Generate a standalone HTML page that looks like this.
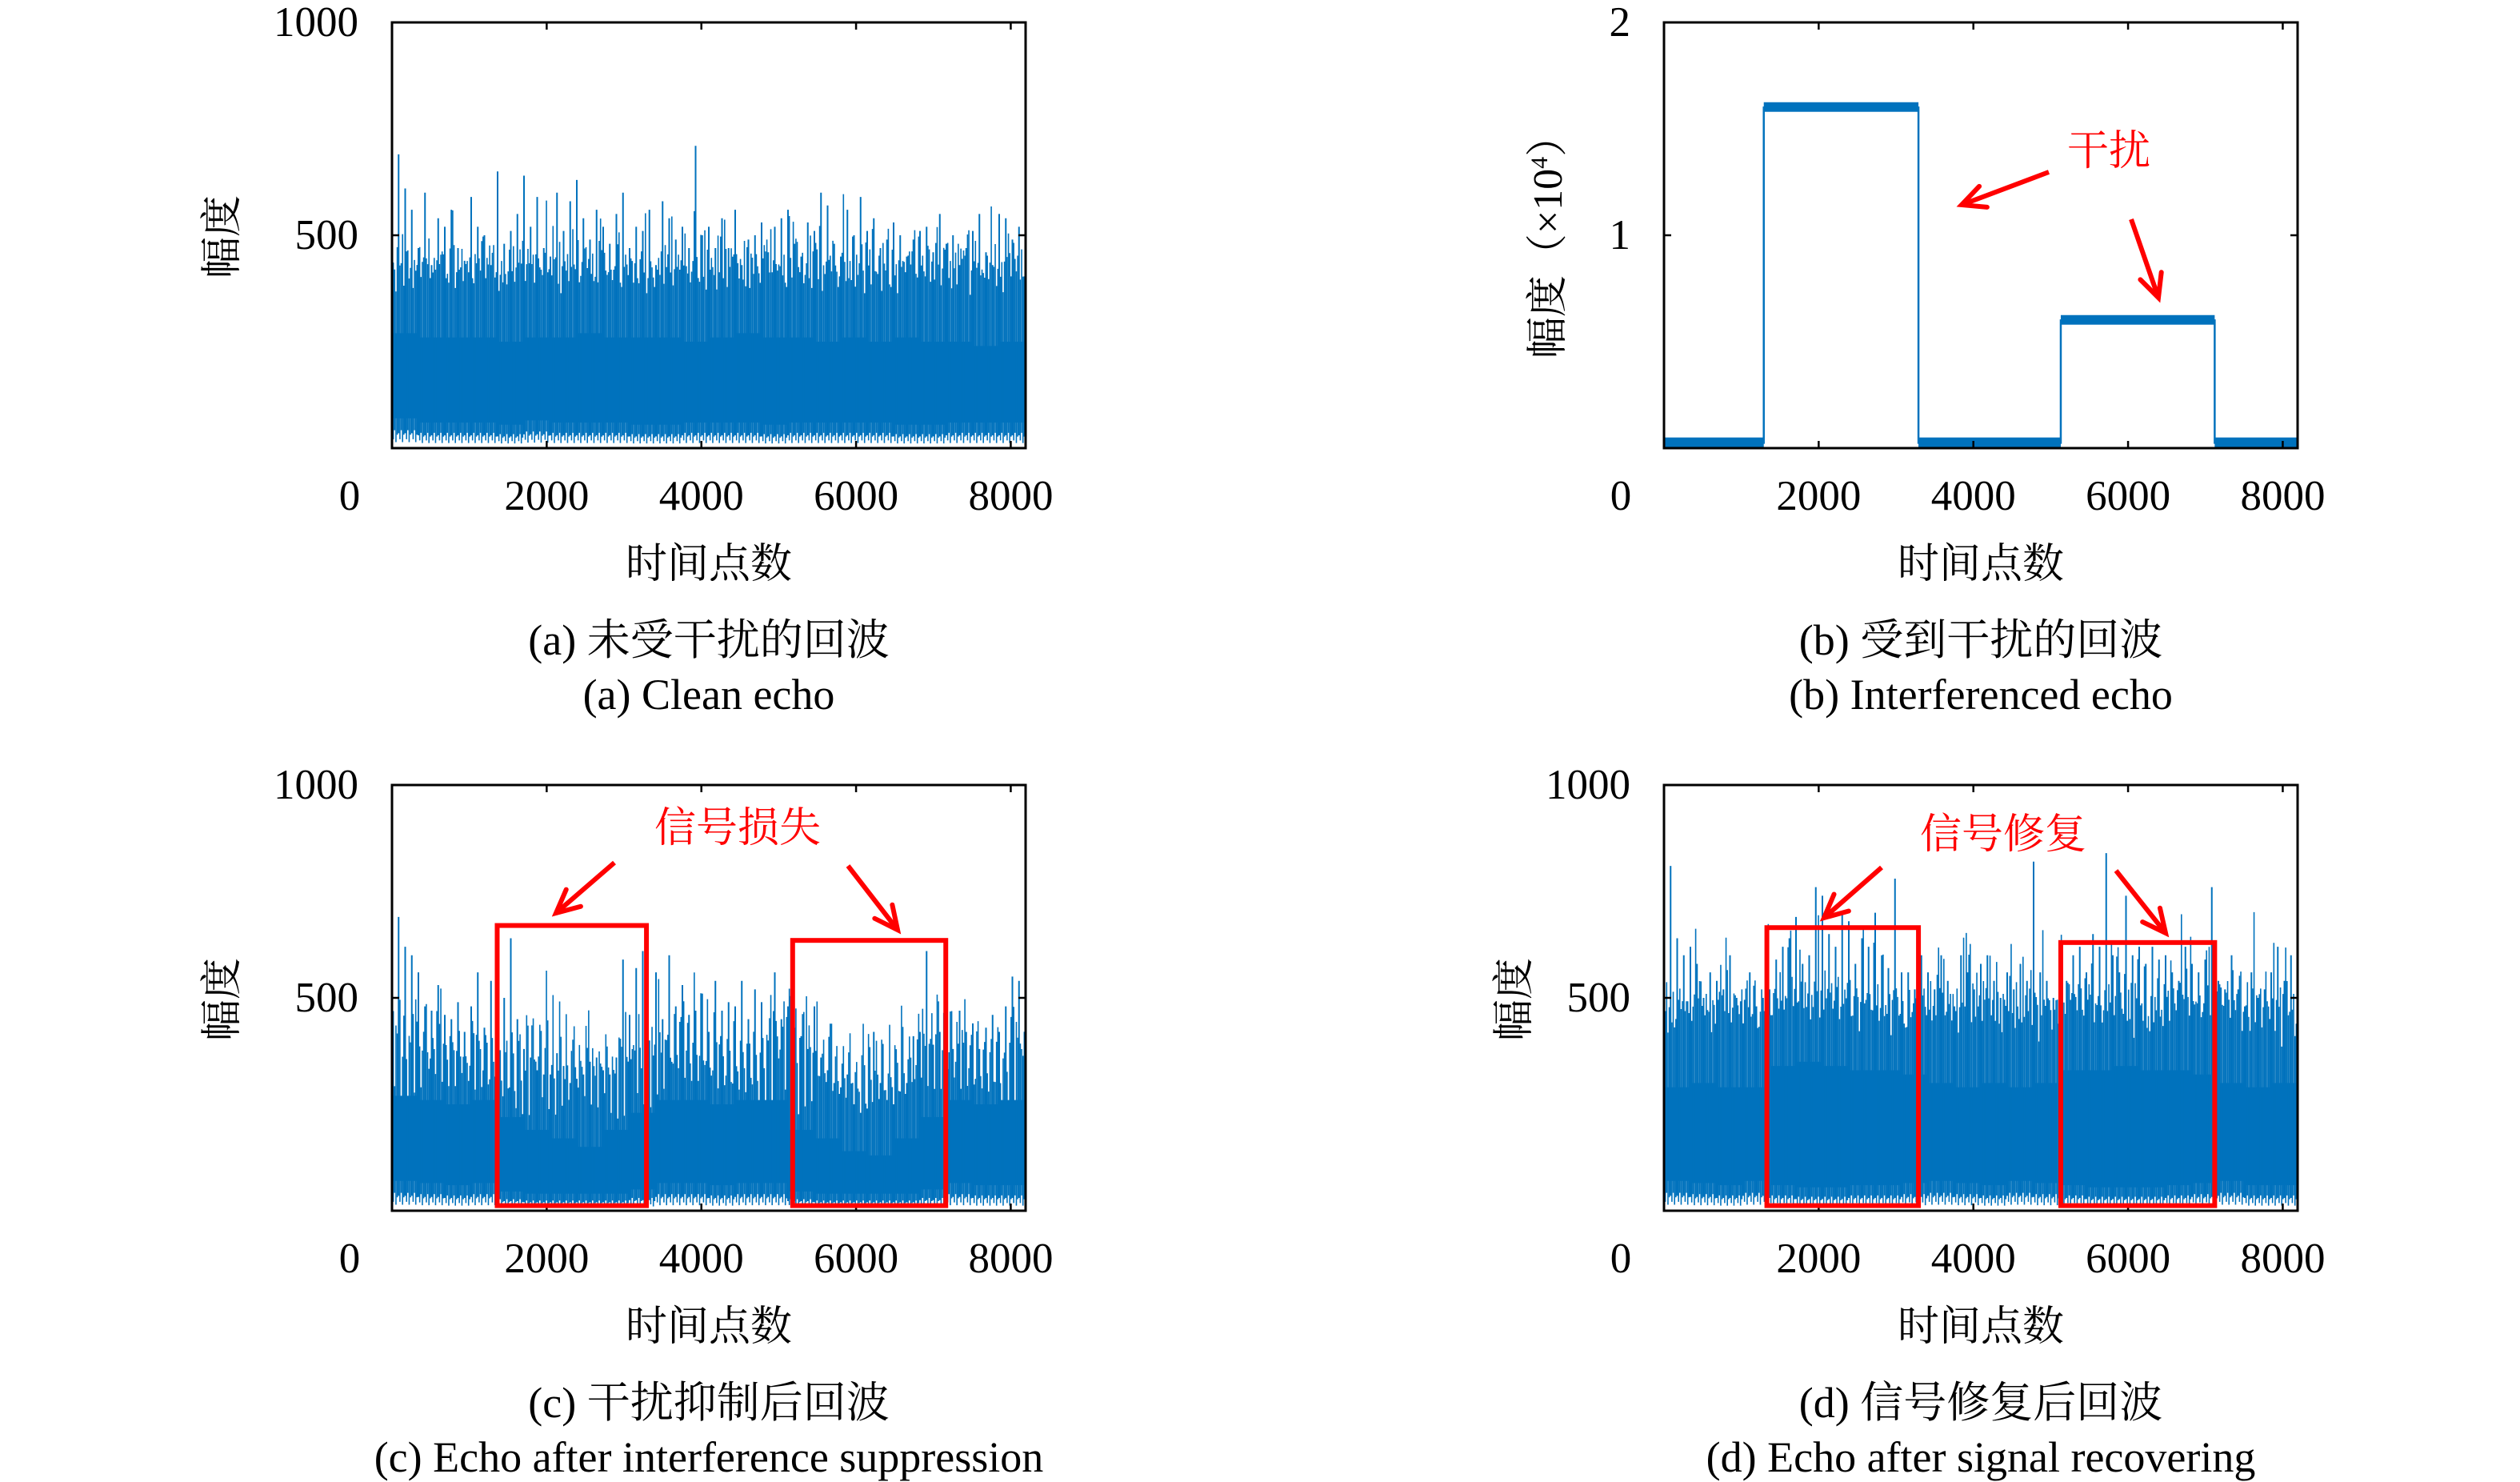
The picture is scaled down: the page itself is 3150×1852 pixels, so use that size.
<!DOCTYPE html>
<html><head><meta charset="utf-8">
<style>
html,body{margin:0;padding:0;background:#fff;}
svg{display:block;}
text{font-family:"Liberation Serif","Noto Serif CJK SC",serif;fill:#000;}
</style></head>
<body>
<svg id="fig" width="3150" height="1852" viewBox="0 0 3150 1852" xmlns="http://www.w3.org/2000/svg"></svg>
<script>
// ---- data ----
const xTicks = [2000, 4000, 6000, 8000];
const xTickLabels = ["2000", "4000", "6000", "8000"];
const yTicksEcho = [500];
const yTickLabelsEcho = ["1000", "500"];
const yTicksB = [1];
const yTickLabelsB = ["2", "1"];

const aPeaks = [480,690,610,560,470,600,430,540,520,560,470,440,590,520,500,430,650,480,510,550,640,520,590,470,450,600,510,580,630,540,490,560,520,480,550,600,470,520,510,560,430,580,540,490,520,470,710,500,520,470,540,470,560,430,490,500,530,460,520,540,560,480,450,530,510,600,570,480,450,560,500,590,510,540,470,490,530,500,450,490,510,520,460,550,480,500,430,470,510,550,460,430,550,540,490,520];
const aCore = [270,260,260,260,250,260,260,270,260,260,260,250,260,270,260,260,250,260,250,260,250,250,240,250];
const aLows = [70,60,60,60,55,65,60,60,60,55,55,60,60,60,55,60,60,60,60,55,55,60,60,60];

const bStarts = [0,1290,3290,5130,7120];
const bEnds = [1290,3290,5130,7120,8192];
const bLevels = [0.025,1.6,0.025,0.6,0.025];

const cPeaks = [520,690,620,600,560,480,470,530,460,450,490,420,480,560,430,540,420,500,640,450,380,360,330,320,320,370,340,300,310,320,350,360,330,320,360,590,460,570,610,400,560,450,600,480,530,460,470,510,420,540,470,490,480,540,450,520,490,400,560,450,480,430,410,380,480,360,330,300,290,320,250,230,240,420,300,260,250,280,300,410,420,610,390,420,400,380,470,420,440,380,430,460,420,480,550,540];
const cCore = [270,260,250,260,220,190,170,150,190,230,260,260,250,260,260,190,170,140,130,170,220,260,250,260];
const cLows = [70,65,60,65,45,40,40,40,40,50,65,65,60,65,65,45,40,40,40,40,50,65,60,60];

const dPeaks = [560,810,640,600,620,580,500,560,540,520,600,500,440,560,480,500,520,590,620,640,690,580,600,760,740,650,620,700,680,580,640,620,700,600,570,780,560,560,520,600,560,520,600,540,480,600,560,520,580,600,540,500,560,520,580,540,820,560,540,500,600,540,600,620,560,650,620,840,600,560,740,600,620,580,620,590,600,560,540,620,580,560,590,760,540,520,600,520,480,560,500,520,560,620,540,600];
const dCore = [290,300,290,290,340,350,340,330,330,320,300,290,300,290,300,330,330,340,330,330,320,300,290,300];
const dLows = [70,65,60,70,60,55,55,60,60,65,70,65,60,70,65,60,55,55,55,60,65,70,60,60];

const cBoxes = [[1360,3290,670],[5180,7160,635]];
const dBoxes = [[1330,3290,665],[5130,7120,630]];

// ---- helpers ----
const NS = "http://www.w3.org/2000/svg";
const svg = document.getElementById("fig");
const BLUE = "#0072BD";
function mk(tag, attrs, parent){
  const e = document.createElementNS(NS, tag);
  for (const k in attrs) e.setAttribute(k, attrs[k]);
  (parent || svg).appendChild(e);
  return e;
}
const W = 792, H = 532, XMAX = 8192;

function makePanel(id, left, top, ymax){
  const g = mk("g", {});
  
  
  const sx = v => left + v / XMAX * W;
  const sy = v => top + H - v / ymax * H;
  return {g, sx, sy, left, top};
}

function drawEcho(p, peaks, core, lows){
  const pg = mk("g", {}, p.g);
  
  
  const nc = core.length;
  for (let i = 0; i < nc; i++){
    const x0 = p.sx(i * XMAX / nc), x1 = p.sx((i + 1) * XMAX / nc);
    const r = mk("rect", {x:x0, y:p.sy(core[i]), width:x1 - x0 + 0.5, height:p.sy(lows[i]) - p.sy(core[i]), fill:BLUE}, pg);
    
    
  }
  const np = peaks.length;
  const fr = [0, 0.2, 0.4, 0.6, 0.8];
  const mult = [1, 0.78, 0.88, 0.72, 0.82];
  const lowMult = [0.5, 0.3, 0.6, 0.2, 0.45];
  for (let i = 0; i < np; i++){
    fr.forEach((f, k) => {
      const xs = (i + f) * XMAX / np;
      const ci = Math.min(nc - 1, Math.floor(xs / XMAX * nc));
      const src = peaks[(i + k * 37) % np];
      const top = k === 0 ? peaks[i] : core[ci] + (src - core[ci]) * mult[k] * 0.85;
      const x = p.sx(xs);
      const l = mk("line", {x1:x, x2:x, y1:p.sy(top), y2:p.sy(lows[ci] * lowMult[k]), stroke:BLUE, "stroke-width":k === 0 ? 2 : 1.6}, pg);
      
      
    });
  }
}

function drawAxes(p, yTicks, yLabels, zeroLabel, yLabelX, yLabelText){
  const g = p.g;
  const box = mk("rect", {x:p.left, y:p.top, width:W, height:H, fill:"none", stroke:"#000", "stroke-width":3}, g);
  
  
  xTicks.forEach((t, i) => {
    const x = p.sx(t);
    mk("line", {x1:x, x2:x, y1:p.top + H, y2:p.top + H - 9, stroke:"#000", "stroke-width":2.5}, g);
    mk("line", {x1:x, x2:x, y1:p.top, y2:p.top + 9, stroke:"#000", "stroke-width":2.5}, g);
    const tx = mk("text", {x:x, y:p.top + H + 77, "font-size":53, "text-anchor":"middle"}, g);
    tx.textContent = xTickLabels[i];
    
    
  });
  yTicks.forEach(t => {
    const y = p.sy(t);
    mk("line", {x1:p.left, x2:p.left + 9, y1:y, y2:y, stroke:"#000", "stroke-width":2.5}, g);
    mk("line", {x1:p.left + W, x2:p.left + W - 9, y1:y, y2:y, stroke:"#000", "stroke-width":2.5}, g);
  });
  const ys = [p.top, p.top + H / 2];
  yLabels.forEach((s, i) => {
    const t = mk("text", {x:p.left - 42, y:ys[i] + 17, "font-size":53, "text-anchor":"end"}, g);
    t.textContent = s;
    
    
  });
  const z = mk("text", {x:zeroLabel, y:p.top + H + 77, "font-size":53, "text-anchor":"middle"}, g);
  z.textContent = "0";
  
  
  const xl = mk("text", {x:p.left + W / 2, y:p.top + H + 162, "font-size":52, "text-anchor":"middle"}, g);
  xl.textContent = "时间点数";
  
  
  const yl = mk("text", {x:0, y:0, "font-size":52, "text-anchor":"middle", transform:`translate(${yLabelX},${p.top + H / 2 + 2}) rotate(-90)`}, g);
  yl.innerHTML = yLabelText;
  
  
}

function caption(x, y, s, name){
  const t = mk("text", {x:x, y:y, "font-size":54, "text-anchor":"middle"});
  t.textContent = s;
  
  
}

function arrow(x1, y1, x2, y2, name){
  const g = mk("g", {});
  
  
  mk("line", {x1, y1, x2, y2, stroke:"#f00", "stroke-width":6}, g);
  const a = Math.atan2(y2 - y1, x2 - x1), L = 32, s = 0.45;
  const p1 = [x2 - L * Math.cos(a - s), y2 - L * Math.sin(a - s)];
  const p2 = [x2 - L * Math.cos(a + s), y2 - L * Math.sin(a + s)];
  mk("polyline", {points:`${p1[0]},${p1[1]} ${x2},${y2} ${p2[0]},${p2[1]}`, fill:"none", stroke:"#f00", "stroke-width":6, "stroke-linecap":"round"}, g);
}

function redText(x, y, s, name){
  const t = mk("text", {x:x, y:y, "font-size":52, "text-anchor":"middle", style:"fill:#f00"});
  t.textContent = s;
  
  
}

function boxes(p, list){
  list.forEach(b => {
    const r = mk("rect", {x:p.sx(b[0]), y:p.sy(b[2]), width:p.sx(b[1]) - p.sx(b[0]), height:p.sy(12) - p.sy(b[2]), fill:"none", stroke:"#f00", "stroke-width":6}, p.g);
    
    
  });
}

// ---- panel a ----
const pa = makePanel("a", 490, 28, 1000);
drawEcho(pa, aPeaks, aCore, aLows);
drawAxes(pa, yTicksEcho, yTickLabelsEcho, 437, 295, "幅度");
caption(886, 818, "(a) 未受干扰的回波", "caption-a-cn");
caption(886, 886, "(a) Clean echo", "caption-a-en");

// ---- panel b ----
const pb = makePanel("b", 2080, 28, 2);
(function(){
  const g = mk("g", {}, pb.g);
  
  
  let d = "";
  bLevels.forEach((lv, i) => {
    d += (i === 0 ? "M" : "L") + pb.sx(bStarts[i]) + "," + pb.sy(lv) + " L" + pb.sx(bEnds[i]) + "," + pb.sy(lv) + " ";
    const r = mk("rect", {x:pb.sx(bStarts[i]), y:pb.sy(lv + 0.025), width:pb.sx(bEnds[i]) - pb.sx(bStarts[i]), height:pb.sy(lv - 0.02) - pb.sy(lv + 0.025), fill:BLUE}, g);
    
    
  });
  const path = mk("path", {d:d, fill:"none", stroke:BLUE, "stroke-width":2.5}, g);
  
  
})();
drawAxes(pb, yTicksB, yTickLabelsB, 2026, 1952, "幅度（×10<tspan font-size='30' dy='-18'>4</tspan><tspan dy='18'>）</tspan>");
redText(2636, 206, "干扰", "annotation-interference");
arrow(2561, 215, 2452, 256, "arrow-interference-1");
arrow(2664, 274, 2698, 372, "arrow-interference-2");
caption(2476, 818, "(b) 受到干扰的回波", "caption-b-cn");
caption(2476, 886, "(b) Interferenced echo", "caption-b-en");

// ---- panel c ----
const pc = makePanel("c", 490, 981, 1000);
drawEcho(pc, cPeaks, cCore, cLows);
drawAxes(pc, yTicksEcho, yTickLabelsEcho, 437, 295, "幅度");
boxes(pc, cBoxes);
redText(922, 1052, "信号损失", "annotation-signal-loss");
arrow(768, 1078, 695, 1141, "arrow-loss-1");
arrow(1060, 1082, 1122, 1162, "arrow-loss-2");
caption(886, 1771, "(c) 干扰抑制后回波", "caption-c-cn");
caption(886, 1839, "(c) Echo after interference suppression", "caption-c-en");

// ---- panel d ----
const pd = makePanel("d", 2080, 981, 1000);
drawEcho(pd, dPeaks, dCore, dLows);
drawAxes(pd, yTicksEcho, yTickLabelsEcho, 2026, 1910, "幅度");
boxes(pd, dBoxes);
redText(2504, 1060, "信号修复", "annotation-signal-repair");
arrow(2352, 1084, 2280, 1147, "arrow-repair-1");
arrow(2645, 1088, 2707, 1166, "arrow-repair-2");
caption(2476, 1771, "(d) 信号修复后回波", "caption-d-cn");
caption(2476, 1839, "(d) Echo after signal recovering", "caption-d-en");
</script>
</body></html>
